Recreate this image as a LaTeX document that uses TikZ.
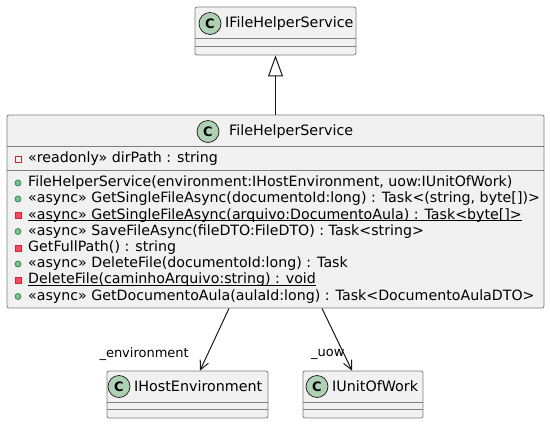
\documentclass[tikz,border=0pt]{standalone}
\usepackage{fontspec}
\setmainfont{DejaVu Sans}
\usetikzlibrary{arrows.meta}
\definecolor{boxfill}{HTML}{F1F1F1}
\definecolor{boxline}{HTML}{7E7E7E}
\definecolor{arrowline}{HTML}{181818}
\definecolor{classbadge}{HTML}{ADD1B2}
\definecolor{privline}{HTML}{C82930}
\definecolor{privfill}{HTML}{F24D5C}
\definecolor{publine}{HTML}{038048}
\definecolor{pubfill}{HTML}{84BE84}
\tikzset{
  classbox/.style={draw=boxline, fill=boxfill, line width=0.8pt, rounded corners=2pt, inner sep=0pt},
  sepline/.style={draw=boxline, line width=0.8pt},
  badge/.style={circle, draw=arrowline, fill=classbadge, line width=0.7pt, minimum size=22pt, inner sep=0pt, font=\fontsize{13}{13}\selectfont\bfseries},
  classname/.style={anchor=west, inner sep=0pt, font=\fontsize{14.3}{14}\selectfont},
  member/.style={anchor=west, inner sep=0pt, text height=10pt, text depth=3pt, font=\fontsize{14.2}{14}\selectfont},
  underl/.style={draw=black, line width=0.8pt},
  pubicon/.style={circle, draw=publine, fill=pubfill, line width=0.6pt, minimum size=6pt, inner sep=0pt},
  privicon/.style={rectangle, draw=privline, fill=privfill, line width=0.6pt, minimum size=6pt, inner sep=0pt},
  privfield/.style={rectangle, draw=privline, fill=none, line width=0.6pt, minimum size=6pt, inner sep=0pt},
  inherit/.style={draw=arrowline, line width=1pt, -{Triangle[open, length=21pt, width=15pt]}},
  assoc/.style={draw=arrowline, line width=1pt, -{Straight Barb[length=9pt, width=9pt]}},
  rolelabel/.style={inner sep=0pt, font=\fontsize{13}{13}\selectfont},
}
\begin{document}
\begin{tikzpicture}[x=1pt, y=-1pt]
  \useasboundingbox (0,0) rectangle (550,424);

  % interface at the top
  \node[classbox, minimum width=161pt, minimum height=48pt] (ifhs) at (275.5,31) {};
  \draw[sepline] ([yshift=-32pt]ifhs.north west) -- ([yshift=-32pt]ifhs.north east);
  \draw[sepline] ([yshift=-40pt]ifhs.north west) -- ([yshift=-40pt]ifhs.north east);
  \node[badge] (ifhsbadge) at (210,23.5) {C};
  \node[classname] (ifhsname) at (225,23.5) {IFileHelperService};

  % the service class
  \node[classbox, minimum width=537pt, minimum height=193pt] (fhs) at (275.5,211.5) {};
  \draw[sepline] ([yshift=-32pt]fhs.north west) -- ([yshift=-32pt]fhs.north east);
  \draw[sepline] ([yshift=-56pt]fhs.north west) -- ([yshift=-56pt]fhs.north east);
  \node[badge] (fhsbadge) at (208,131.5) {C};
  \node[classname] (fhsname) at (229,131.5) {FileHelperService};

  \node[privfield] (f1icon) at (18,159) {};
  \node[member] (f1) at (28,159) {«readonly» dirPath : string};

  \node[pubicon] (m1icon) at (18,183) {};
  \node[member] (m1) at (28,183) {FileHelperService(environment:IHostEnvironment, uow:IUnitOfWork)};
  \node[pubicon] (m2icon) at (18,199) {};
  \node[member] (m2) at (28,199) {«async» GetSingleFileAsync(documentoId:long) : Task<(string, byte[])>};
  \node[privicon] (m3icon) at (18,215.5) {};
  \node[member] (m3) at (28,215.5) {«async» GetSingleFileAsync(arquivo:DocumentoAula) : Task<byte[]>};
  \draw[underl] ([yshift=1.5pt]m3.south west) -- ([yshift=1.5pt]m3.south east);
  \node[pubicon] (m4icon) at (18,231.5) {};
  \node[member] (m4) at (28,231.5) {«async» SaveFileAsync(fileDTO:FileDTO) : Task<string>};
  \node[privicon] (m5icon) at (18,248) {};
  \node[member] (m5) at (28,248) {GetFullPath() : string};
  \node[pubicon] (m6icon) at (18,264) {};
  \node[member] (m6) at (28,264) {«async» DeleteFile(documentoId:long) : Task};
  \node[privicon] (m7icon) at (18,280) {};
  \node[member] (m7) at (28,280) {DeleteFile(caminhoArquivo:string) : void};
  \draw[underl] ([yshift=1.5pt]m7.south west) -- ([yshift=1.5pt]m7.south east);
  \node[pubicon] (m8icon) at (18,296.5) {};
  \node[member] (m8) at (28,296.5) {«async» GetDocumentoAula(aulaId:long) : Task<DocumentoAulaDTO>};

  % dependencies at the bottom
  \node[classbox, minimum width=161pt, minimum height=47pt] (env) at (187.5,394.5) {};
  \draw[sepline] ([yshift=-32pt]env.north west) -- ([yshift=-32pt]env.north east);
  \draw[sepline] ([yshift=-39pt]env.north west) -- ([yshift=-39pt]env.north east);
  \node[badge] (envbadge) at (119,386.5) {C};
  \node[classname] (envname) at (134,386.5) {IHostEnvironment};

  \node[classbox, minimum width=120pt, minimum height=47pt] (uow) at (363,394.5) {};
  \draw[sepline] ([yshift=-32pt]uow.north west) -- ([yshift=-32pt]uow.north east);
  \draw[sepline] ([yshift=-39pt]uow.north west) -- ([yshift=-39pt]uow.north east);
  \node[badge] (uowbadge) at (317,386.5) {C};
  \node[classname] (uowname) at (332,386.5) {IUnitOfWork};

  % connectors
  \draw[inherit] (fhs.north) -- (ifhs.south);
  \draw[assoc] ([xshift=-46.5pt]fhs.south) -- ([xshift=12.5pt]env.north);
  \draw[assoc] ([xshift=46.5pt]fhs.south) -- ([xshift=-11pt]uow.north);
  \node[rolelabel, anchor=east] (envrole) at (189,354) {\_environment};
  \node[rolelabel, anchor=west] (uowrole) at (311,354) {\_uow};
\end{tikzpicture}
\end{document}
